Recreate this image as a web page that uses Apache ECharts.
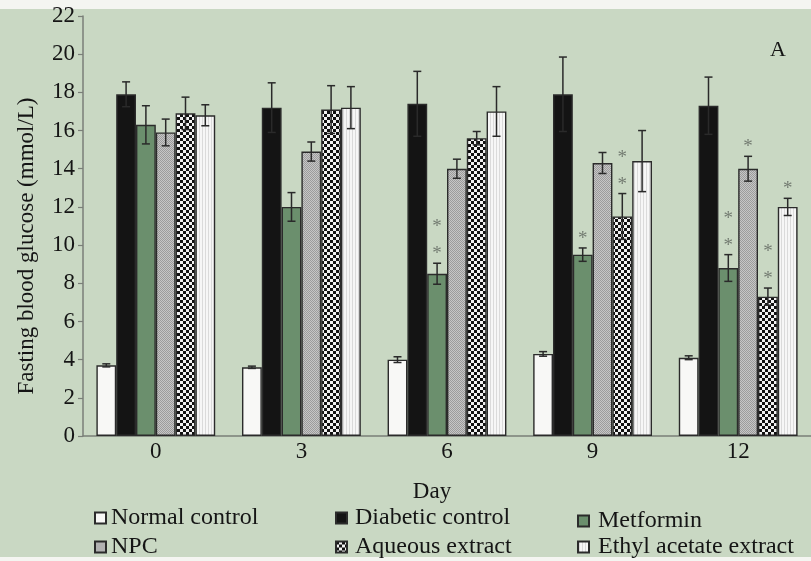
<!DOCTYPE html>
<html>
<head>
<meta charset="utf-8">
<script src="https://cdn.jsdelivr.net/npm/echarts@6/dist/echarts.min.js"></script>
<style>
html,body{margin:0;padding:0;background:#fff;}
#chart{width:811px;height:561px;background:linear-gradient(to bottom,#f4f5f1 0px,#f4f5f1 9px,#c9d8c3 9px,#c9d8c3 557px,#f4f5f1 557px);}
</style>
</head>
<body>
<div id="chart"></div>
<script>
// ---- data ----
var categories = ['0', '3', '6', '9', '12'];
var seriesNames = ['Normal control', 'Diabetic control', 'Metformin', 'NPC', 'Aqueous extract', 'Ethyl acetate extract'];
var normalControl = [3.7, 3.6, 4.0, 4.3, 4.1];
var normalErr = [0.08, 0.06, 0.15, 0.12, 0.1];
var diabeticControl = [17.9, 17.2, 17.4, 17.9, 17.3];
var diabeticErr = [0.65, 1.3, 1.7, 1.95, 1.5];
var metformin = [16.3, 12.0, 8.5, 9.5, 8.8];
var metforminErr = [1.0, 0.75, 0.55, 0.35, 0.7];
var npc = [15.9, 14.9, 14.0, 14.3, 14.0];
var npcErr = [0.7, 0.5, 0.5, 0.55, 0.65];
var aqueousExtract = [16.9, 17.1, 15.6, 11.5, 7.3];
var aqueousErr = [0.85, 1.25, 0.35, 1.2, 0.45];
var ethylAcetateExtract = [16.8, 17.2, 17.0, 14.4, 12.0];
var ethylErr = [0.55, 1.1, 1.3, 1.6, 0.45];
// number of significance asterisks above each bar
var normalStars = [0, 0, 0, 0, 0];
var diabeticStars = [0, 0, 0, 0, 0];
var metforminStars = [0, 0, 2, 1, 2];
var npcStars = [0, 0, 0, 0, 1];
var aqueousStars = [0, 0, 0, 2, 2];
var ethylStars = [0, 0, 0, 0, 1];
var yTicks = [0, 2, 4, 6, 8, 10, 12, 14, 16, 18, 20, 22];

// ---- styling helpers ----
function pattern(size, bg, fg, cells) {
  var c = document.createElement('canvas');
  c.width = size; c.height = size;
  var x = c.getContext('2d');
  x.fillStyle = bg; x.fillRect(0, 0, size, size);
  x.fillStyle = fg;
  cells.forEach(function (p) { x.fillRect(p[0], p[1], p[2], p[3]); });
  return { image: c, repeat: 'repeat' };
}
var fills = [
  '#f8f8f6',
  '#141414',
  '#6b8f6d',
  pattern(2, '#c6c6c6', '#9c9c9c', [[0, 0, 1, 1], [1, 1, 1, 1]]),
  pattern(6, '#f2f2f2', '#111111', [[0, 0, 3, 3], [3, 3, 3, 3]]),
  pattern(3, '#f6f6f6', '#dadada', [[1, 0, 1, 3]])
];
var valuesList = [normalControl, diabeticControl, metformin, npc, aqueousExtract, ethylAcetateExtract];
var errList = [normalErr, diabeticErr, metforminErr, npcErr, aqueousErr, ethylErr];
var starList = [normalStars, diabeticStars, metforminStars, npcStars, aqueousStars, ethylStars];

var GAP = 0.184;
var NS = seriesNames.length;
var FONT = 'Liberation Serif';

var series = [];
seriesNames.forEach(function (name, i) {
  series.push({
    name: name,
    type: 'bar',
    data: valuesList[i],
    barGap: '0%',
    barCategoryGap: (GAP * 100) + '%',
    itemStyle: { color: fills[i], borderColor: '#2b2b2b', borderWidth: 1.4 },
    emphasis: { disabled: true },
    z: 2
  });
});
seriesNames.forEach(function (name, i) {
  series.push({
    type: 'custom',
    silent: true,
    z: 10,
    encode: { x: 0, y: 1 },
    data: categories.map(function (c, k) { return [k, valuesList[i][k], errList[i][k], starList[i][k]]; }),
    renderItem: function (params, api) {
      var ci = api.value(0), v = api.value(1), e = api.value(2), s = api.value(3);
      var band = api.size([1, 0])[0];
      var bw = band * (1 - GAP) / NS;
      var cx = api.coord([ci, 0])[0] - band * (1 - GAP) / 2 + bw * (i + 0.5);
      var yt = api.coord([ci, v + e])[1];
      var yb = api.coord([ci, v - e])[1];
      var st = { stroke: '#2a2a2a', lineWidth: 1.5 };
      var hw = 4;
      var children = [
        { type: 'line', shape: { x1: cx, y1: yt, x2: cx, y2: yb }, style: st },
        { type: 'line', shape: { x1: cx - hw, y1: yt, x2: cx + hw, y2: yt }, style: st },
        { type: 'line', shape: { x1: cx - hw, y1: yb, x2: cx + hw, y2: yb }, style: st }
      ];
      for (var k = 0; k < s; k++) {
        children.push({
          type: 'text',
          style: {
            text: '*', x: cx, y: yt - 15 - k * 27 + 6,
            align: 'center', verticalAlign: 'middle',
            font: '19px "Liberation Serif"', fill: '#737b71'
          }
        });
      }
      return { type: 'group', children: children };
    }
  });
});

function legendAt(name, left, top, extraPad) {
  return {
    data: [name], left: left, top: top, padding: 0,
    itemWidth: 11, itemHeight: 11, icon: 'rect', selectedMode: false,
    textStyle: { fontFamily: FONT, fontSize: 24, color: '#151515', padding: [0, 0, 0, extraPad] }
  };
}

var option = {
  animation: false,
  backgroundColor: 'transparent',
  title: [{
    text: 'A', left: 765, top: 34,
    textStyle: { fontFamily: FONT, fontSize: 22, fontWeight: 'normal', color: '#151515' }
  }],
  legend: [
    legendAt('Normal control', 94, 506, 0),
    legendAt('Diabetic control', 335, 506, 3),
    legendAt('Metformin', 577, 509, 4),
    legendAt('NPC', 94, 535, 0),
    legendAt('Aqueous extract', 335, 535, 3),
    legendAt('Ethyl acetate extract', 577, 535, 4)
  ],
  grid: { left: 83, top: 16, width: 747.5, height: 420, containLabel: false },
  xAxis: {
    type: 'category',
    data: categories,
    name: 'Day',
    nameLocation: 'middle',
    nameGap: 44,
    nameTextStyle: { fontFamily: FONT, fontSize: 23, color: '#151515', padding: [0, 30, 0, 0] },
    axisLine: { lineStyle: { color: '#7a7f78', width: 1.5 } },
    axisTick: { length: 6, lineStyle: { color: '#7a7f78', width: 1.2 } },
    axisLabel: { fontFamily: FONT, fontSize: 23, color: '#151515', margin: 4 },
    splitLine: { show: false }
  },
  yAxis: {
    type: 'value',
    min: yTicks[0], max: yTicks[yTicks.length - 1], interval: yTicks[1] - yTicks[0],
    name: 'Fasting blood glucose (mmol/L)',
    nameLocation: 'middle',
    nameRotate: 90,
    nameGap: 45,
    nameTextStyle: { fontFamily: FONT, fontSize: 23, color: '#151515', padding: [0, 40, 0, 0] },
    axisLine: { show: true, lineStyle: { color: '#7a7f78', width: 1.5 } },
    axisTick: { show: true, length: 5, lineStyle: { color: '#7a7f78', width: 1.2 } },
    axisLabel: { fontFamily: FONT, fontSize: 23, color: '#151515', margin: 8 },
    splitLine: { show: false }
  },
  series: series
};

var chart = echarts.init(document.getElementById('chart'), null, { renderer: 'canvas' });
chart.setOption(option);
</script>
</body>
</html>
